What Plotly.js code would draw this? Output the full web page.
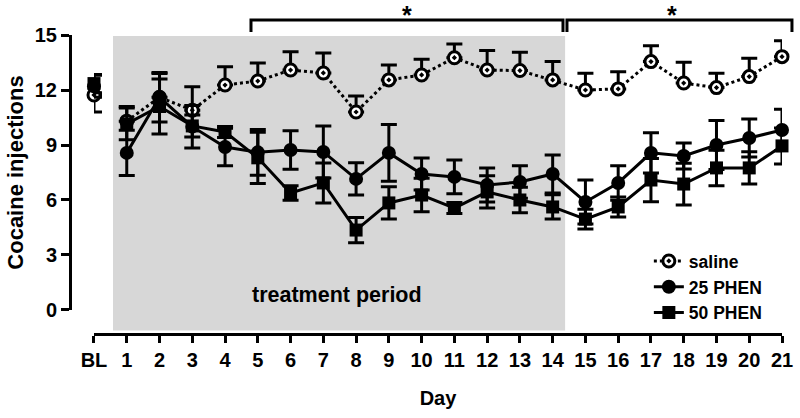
<!DOCTYPE html>
<html>
<head>
<meta charset="utf-8">
<script src="https://cdn.plot.ly/plotly-3.0.1.min.js"></script>
<style>html,body{margin:0;padding:0;background:#fff;}#chart{width:800px;height:418px;}</style>
</head>
<body>
<div id="chart"></div>
<script>
// ---- data ----
const dayLabels = ['BL','1','2','3','4','5','6','7','8','9','10','11','12','13','14','15','16','17','18','19','20','21'];

const salineMean   = [11.73,10.3,11.6,10.9,12.27,12.49,13.09,12.93,10.8,12.55,12.82,13.76,13.09,13.06,12.55,12.0,12.06,13.55,12.38,12.13,12.73,13.82];
const salineErrUp  = [0,0.8,1.3,1.28,1.0,0.98,0.99,1.09,0.87,0.82,0.86,0.75,1.06,1.0,1.0,0.91,0.94,0.87,1.13,0.78,1.0,0.87];
const salineErrDn  = [0.93,0,0,0,0,0,0,0,0,0,0,0,0,0,0,0,0,0,0,0,0,0];

const phen25Mean = [12.2,8.57,11.6,10.0,8.89,8.6,8.73,8.62,7.15,8.57,7.42,7.26,6.82,6.98,7.42,5.89,6.93,8.57,8.4,9.0,9.38,9.82];
const phen25Err  = [0.6,1.24,1.35,1.16,1.02,1.25,1.05,1.42,0.88,1.55,0.87,0.92,0.93,0.89,1.04,1.2,0.94,1.1,0.71,1.33,1.04,1.13];

const phen50Mean = [12.35,10.15,11.1,10.04,9.71,8.3,6.38,6.93,4.36,5.84,6.27,5.56,6.44,6.0,5.62,4.96,5.62,7.09,6.87,7.75,7.75,8.95];
const phen50Err  = [0.5,0.87,1.5,0.6,0.3,1.4,0.4,1.09,0.69,0.88,0.91,0.3,0.88,0.69,0.66,0.54,0.55,1.18,1.14,0.97,0.88,0.98];

const yTicks = [0,3,6,9,12,15];
const treatmentStart = 0.58, treatmentEnd = 14.38;

// ---- build traces ----
const xIdx = dayLabels.map((_, i) => i);

function series(name, mean, up, dn, marker, line) {
  const eb = (u, d) => ({type:'data', symmetric:false, array:u, arrayminus:d,
                         color:'#000', thickness:3, width:8});
  const bl = {
    x:[xIdx[0]], y:[mean[0]], type:'scatter', mode:'markers', name:name,
    showlegend:false, legendgroup:name, cliponaxis:false, marker:marker,
    error_y: eb([up[0]], [dn[0]])
  };
  const days = {
    x:xIdx.slice(1), y:mean.slice(1), type:'scatter', mode:'lines+markers', name:name,
    legendgroup:name, cliponaxis:false, marker:marker, line:line,
    error_y: eb(up.slice(1), dn.slice(1))
  };
  return [bl, days];
}

const traces = [
  ...series('saline', salineMean, salineErrUp, salineErrDn,
    {symbol:'circle-dot', size:12, color:'#fff', line:{color:'#000', width:3}},
    {color:'#000', width:3, dash:'dot'}),
  ...series('25 PHEN', phen25Mean, phen25Err, phen25Err,
    {symbol:'circle', size:14, color:'#000', line:{width:0}},
    {color:'#000', width:3}),
  ...series('50 PHEN', phen50Mean, phen50Err, phen50Err,
    {symbol:'square', size:13, color:'#000', line:{width:0}},
    {color:'#000', width:3})
];

const bold = {family:'Liberation Sans, Arial, sans-serif', color:'#000', weight:700};

const layout = {
  width:800, height:418,
  margin:{l:70, r:18, t:35, b:84},
  paper_bgcolor:'#fff', plot_bgcolor:'rgba(0,0,0,0)',
  showlegend:true,
  legend:{x:0.813, y:0.304, xanchor:'left', yanchor:'top', bgcolor:'rgba(0,0,0,0)',
          font:Object.assign({}, bold, {size:17.5}), tracegroupgap:0, itemwidth:30},
  xaxis:{
    domain:[0.0337, 1], range:[0, 21], anchor:'free', position:0,
    showline:true, linewidth:3, linecolor:'#000',
    ticks:'outside', ticklen:7, tickwidth:3, tickcolor:'#000',
    tickvals:xIdx, ticktext:dayLabels,
    tickfont:{family:'Liberation Sans Narrow, Liberation Sans, Arial, sans-serif', size:20, color:'#000', weight:700},
    showgrid:false, zeroline:false,
    title:{text:'Day', font:Object.assign({}, bold, {size:20}), standoff:20}
  },
  yaxis:{
    domain:[0.0803, 1], range:[0, 15], anchor:'free', position:0,
    showline:true, linewidth:3, linecolor:'#000',
    ticks:'outside', ticklen:8, tickwidth:3, tickcolor:'#000',
    tickvals:yTicks, tickfont:Object.assign({}, bold, {size:20}),
    showgrid:false, zeroline:false,
    title:{text:'Cocaine injections', font:Object.assign({}, bold, {size:22}), standoff:4}
  },
  shapes:[
    {type:'rect', layer:'below', xref:'x', yref:'paper', x0:treatmentStart, x1:treatmentEnd,
     y0:0.012, y1:0.997, fillcolor:'#d7d7d7', line:{width:0}},
    {type:'path', xref:'paper', yref:'paper', path:'M 0.2542,1.0100 L 0.2542,1.0502 L 0.6924,1.0502 L 0.6924,1.0100',
     line:{color:'#000', width:3}},
    {type:'path', xref:'paper', yref:'paper', path:'M 0.6980,1.0100 L 0.6980,1.0502 L 1.0140,1.0502 L 1.0140,1.0100',
     line:{color:'#000', width:3}}
  ],
  annotations:[
    {text:'treatment period', xref:'x', yref:'y', x:7.42, y:0.82, showarrow:false,
     font:Object.assign({}, bold, {size:21.5})},
    {text:'*', xref:'paper', yref:'paper', x:0.4733, y:1.122, showarrow:false,
     font:Object.assign({}, bold, {size:25})},
    {text:'*', xref:'paper', yref:'paper', x:0.856, y:1.122, showarrow:false,
     font:Object.assign({}, bold, {size:25})}
  ]
};

Plotly.newPlot('chart', traces, layout, {displayModeBar:false, staticPlot:true});
</script>
</body>
</html>
